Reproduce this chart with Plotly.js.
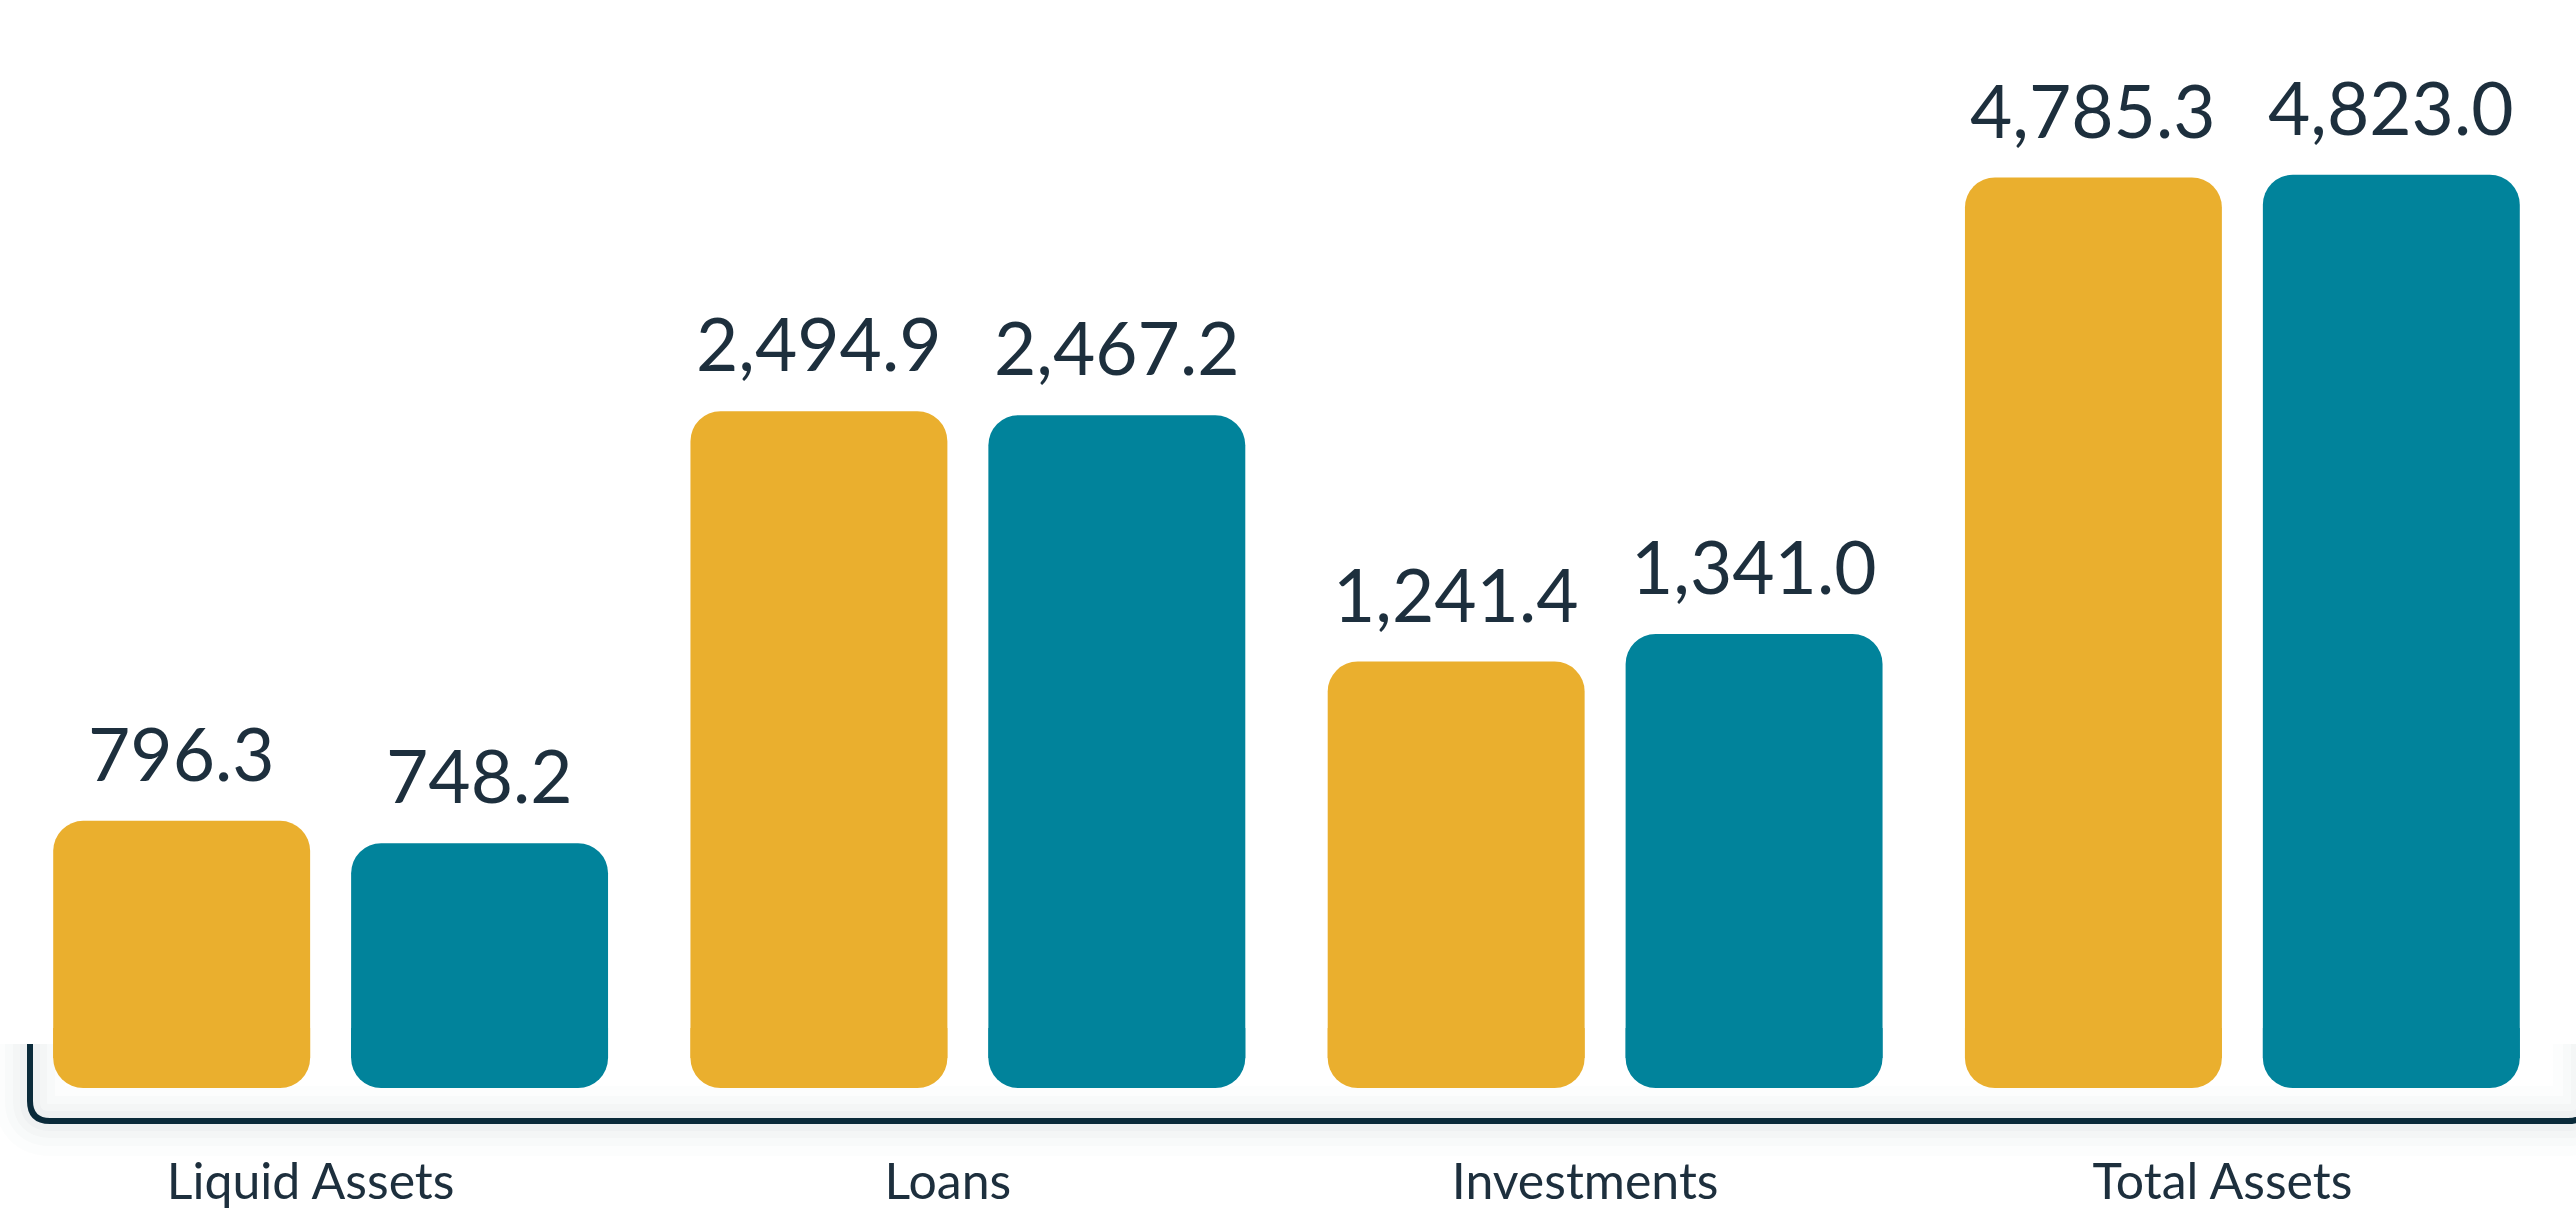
<!DOCTYPE html>
<html>
<head>
<meta charset="utf-8">
<script src="https://cdn.plot.ly/plotly-3.0.1.min.js"></script>
<style>
  html, body { margin: 0; padding: 0; background: #ffffff; }
  #chart { width: 2576px; height: 1213px; }
</style>
</head>
<body>
<div id="chart"></div>
<script>
// ---- data ----
const categories = ['Liquid Assets', 'Loans', 'Investments', 'Total Assets'];
const previousValues = [796.3, 2494.9, 1241.4, 4785.3];
const currentValues = [748.2, 2467.2, 1341.0, 4823.0];
const seriesNames = ['Previous', 'Current'];

// ---- style ----
const GOLD = '#EAAF2E';
const TEAL = '#01839B';
const INK = '#1D2F3D';
const AXIS_INK = '#0A2A3A';
const FONT = 'Lato, "Noto Sans", sans-serif';

const W = 2576, H = 1213;
const M = {l: 12, r: 15, t: 100, b: 125};
const plotW = W - M.l - M.r;
const plotH = H - M.t - M.b;
const bottomPx = H - M.b;
const BARGAP = 0.065, BARGROUPGAP = 0.1376;
const RADIUS = 30;

const px = x => (x - M.l) / plotW;
const py = y => (bottomPx - y) / plotH;

const fmt = v => v.toLocaleString('en-US', {minimumFractionDigits: 1, maximumFractionDigits: 1});

const series = [
  {name: seriesNames[0], values: previousValues, color: GOLD, group: 'a'},
  {name: seriesNames[1], values: currentValues, color: TEAL, group: 'b'}
];

const traces = [];
series.forEach(s => {
  traces.push({
    type: 'bar', name: s.name, x: categories, y: s.values,
    xaxis: 'x', yaxis: 'y', offsetgroup: s.group,
    marker: {color: s.color, cornerradius: RADIUS, line: {width: 0}},
    hoverinfo: 'x+y', showlegend: false
  });
});
// rounded-bottom caps (decorative) on a second axis, same colour and position
series.forEach(s => {
  traces.push({
    type: 'bar', name: s.name + ' base', x: categories, y: categories.map(() => 1),
    xaxis: 'x', yaxis: 'y2', offsetgroup: s.group,
    marker: {color: s.color, cornerradius: RADIUS, line: {width: 0}},
    hoverinfo: 'skip', showlegend: false
  });
});

// value labels above bars
const slot = (1 - BARGAP) / 2;
const annotations = [];
series.forEach((s, k) => {
  s.values.forEach((v, i) => {
    annotations.push({
      x: i + (k === 0 ? -slot / 2 : slot / 2), xref: 'x',
      y: Math.log10(v), yref: 'y',
      text: fmt(v), showarrow: false,
      xanchor: 'center', yanchor: 'bottom', yshift: 22,
      font: {family: FONT, size: 73, color: INK}
    });
  });
});

// baseline line with rounded corners + soft halo
const axisPath = 'M ' + px(30) + ',' + py(1044) +
  ' L ' + px(30) + ',' + py(1101) +
  ' Q ' + px(30) + ',' + py(1121) + ' ' + px(50) + ',' + py(1121) +
  ' L ' + px(2568) + ',' + py(1121) +
  ' Q ' + px(2588) + ',' + py(1121) + ' ' + px(2588) + ',' + py(1101) +
  ' L ' + px(2588) + ',' + py(1044);
const shapes = [];
[[70, 0.012], [50, 0.016], [34, 0.02], [20, 0.025]].forEach(([w, a]) => {
  shapes.push({type: 'path', xref: 'paper', yref: 'paper', path: axisPath, layer: 'below',
    line: {color: 'rgba(30,50,70,' + a + ')', width: w}});
});
shapes.push({type: 'path', xref: 'paper', yref: 'paper', path: axisPath, layer: 'above',
  line: {color: AXIS_INK, width: 6}});

const layout = {
  width: W, height: H,
  margin: M,
  paper_bgcolor: '#ffffff', plot_bgcolor: 'rgba(0,0,0,0)',
  barmode: 'group', bargap: BARGAP, bargroupgap: BARGROUPGAP,
  font: {family: FONT, color: INK},
  showlegend: false,
  xaxis: {
    type: 'category', range: [-0.5, 3.5], anchor: 'free', position: 0,
    showline: false, showgrid: false, zeroline: false, ticks: '',
    tickfont: {family: FONT, size: 50, color: INK},
    ticklabelshift: -20, ticklabelstandoff: 60,
    fixedrange: true
  },
  yaxis: {
    type: 'log', range: [2.614, 3.7738], domain: [30 / plotH, 1],
    visible: false, showgrid: false, zeroline: false, fixedrange: true
  },
  yaxis2: {
    type: 'linear', range: [1, 0], domain: [0, 60 / plotH], anchor: 'x',
    visible: false, showgrid: false, zeroline: false, fixedrange: true
  },
  annotations: annotations,
  shapes: shapes
};

Plotly.newPlot('chart', traces, layout, {displayModeBar: false, staticPlot: true});
</script>
</body>
</html>
